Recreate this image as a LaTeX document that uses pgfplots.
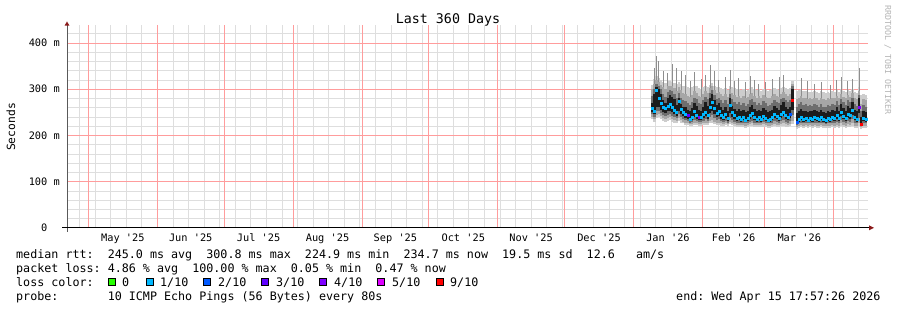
\documentclass[border=0pt]{standalone}
\usepackage{pgfplots}
\pgfplotsset{compat=1.18}
\usepackage{pgfplotstable}
\usepackage{fontspec}
\setmonofont{DejaVu Sans Mono}

\definecolor{s1}{HTML}{CDCDCD}
\definecolor{s2}{HTML}{A6A6A6}
\definecolor{s3}{HTML}{6E6E6E}
\definecolor{s4}{HTML}{1C1C1C}
\definecolor{spk}{HTML}{8E8E8E}
\definecolor{c0}{HTML}{26FF00}
\definecolor{c1}{HTML}{00B8FF}
\definecolor{c2}{HTML}{0059FF}
\definecolor{c3}{HTML}{5E00FF}
\definecolor{c4}{HTML}{7E00FF}
\definecolor{c5}{HTML}{DD00FF}
\definecolor{c9}{HTML}{FF0000}
\definecolor{gridred}{HTML}{FF9C9C}
\definecolor{gridgray}{HTML}{DEDEDE}
\definecolor{arrowred}{HTML}{8B1A1A}
\definecolor{rrdgray}{HTML}{B4B4B4}

% x = days since the left edge of the 360-day window
\pgfplotstableread{
x l1 l2 l3 l4 h4 h3 h2 h1 sp m c
263 236 240 246 250 270 285 300 310 0 258 1
264 230 236 240 246 290 300 312 322 345 252 1
265 238 244 252 262 305 312 320 328 372 298 1
266 240 246 254 262 300 308 316 324 362 280 1
267 236 242 248 256 290 300 310 320 0 270 1
268 232 238 244 250 276 290 304 316 340 262 1
269 230 236 242 248 270 284 300 314 0 258 1
270 232 238 244 252 282 294 306 318 335 264 1
271 234 240 246 254 288 298 308 318 0 268 1
272 230 236 242 250 284 296 306 316 355 262 1
273 228 234 240 246 278 290 302 314 0 255 1
274 226 232 238 242 266 280 296 312 345 250 1
275 232 238 246 254 282 292 304 316 0 274 1
276 228 234 240 246 268 282 298 312 340 256 1
277 226 230 236 242 262 276 292 308 0 250 1
278 222 228 234 238 262 274 290 306 330 246 1
279 222 226 232 236 256 270 286 304 0 244 3
280 220 224 228 232 252 266 284 302 318 236 1
281 220 224 230 234 260 272 288 304 0 240 1
282 222 228 234 240 270 282 296 308 338 252 1
283 222 226 232 236 264 278 292 306 0 244 1
284 220 224 230 234 256 270 286 302 0 240 4
285 220 224 230 234 254 268 284 300 322 240 1
286 222 226 232 238 262 276 290 304 0 246 1
287 222 228 236 242 272 284 296 306 330 250 1
288 222 226 232 236 264 278 292 304 0 244 1
289 226 232 240 248 282 292 302 310 352 262 1
290 228 234 244 254 290 298 306 314 0 272 1
291 224 230 238 246 276 288 298 308 340 258 1
292 222 226 234 240 266 278 292 304 0 248 1
293 222 228 236 242 270 282 294 304 320 252 1
294 220 226 232 236 262 276 290 302 0 244 1
295 220 224 230 234 256 270 286 300 0 240 1
296 222 226 232 238 262 276 290 302 326 246 1
297 220 224 228 232 254 268 284 298 0 238 1
298 224 230 238 248 280 290 300 308 342 266 1
299 222 226 234 240 264 278 292 304 0 250 1
300 220 224 230 236 258 272 288 302 318 244 1
301 218 222 228 232 254 268 284 300 0 238 1
302 218 222 228 234 258 272 286 300 325 240 1
303 218 222 226 230 252 266 282 298 0 236 1
304 218 222 228 234 256 270 286 300 0 240 1
305 216 220 226 230 250 264 280 296 315 234 1
306 218 222 228 232 254 268 284 298 0 238 1
307 220 224 230 236 262 276 290 302 328 244 1
308 220 226 232 240 266 278 292 304 0 248 1
309 218 222 228 234 258 272 286 300 320 240 1
310 218 222 226 230 252 266 282 298 0 236 1
311 218 222 228 234 256 270 286 300 312 240 1
312 218 222 226 230 252 266 282 296 0 236 1
313 218 224 230 236 260 274 288 300 0 242 1
314 218 222 228 232 256 270 284 298 316 238 1
315 216 220 226 230 250 264 280 296 0 234 1
316 216 220 226 230 252 266 282 298 0 236 1
317 218 222 228 234 256 270 286 300 322 240 1
318 220 224 232 238 264 276 290 302 0 246 1
319 218 222 230 236 260 272 286 300 0 242 1
320 218 222 228 232 256 270 284 298 326 238 1
321 220 224 232 238 266 278 290 302 0 246 1
322 220 226 234 242 272 282 294 304 330 250 1
323 218 224 230 236 262 276 290 302 0 244 1
324 218 222 228 234 258 272 286 300 0 240 1
325 220 224 232 238 262 276 290 302 0 246 2
326 224 232 244 256 300 306 312 318 0 276 9
328 214 218 222 224 248 262 278 296 0 228 2
329 216 220 226 230 254 268 282 298 0 236 1
330 218 222 228 234 258 272 286 300 324 240 1
331 216 220 226 230 252 266 280 296 0 236 1
332 218 222 228 232 254 268 282 296 0 238 1
333 216 220 226 230 250 264 278 294 318 234 1
334 218 222 228 232 254 266 280 294 0 238 1
335 216 220 226 230 252 264 278 294 0 236 1
336 218 222 228 234 256 268 282 296 312 240 1
337 216 220 228 232 252 266 280 294 0 238 1
338 216 220 226 230 250 262 276 292 0 236 1
339 218 222 228 234 256 268 282 296 316 240 1
340 216 220 226 230 250 262 278 294 0 236 1
341 216 220 224 228 248 262 276 292 0 234 1
342 216 220 226 232 254 266 280 294 0 238 1
343 216 220 226 230 250 264 278 292 310 236 1
344 218 222 228 234 256 268 282 296 0 240 1
345 216 220 226 232 254 266 280 294 0 238 1
346 218 222 230 236 262 274 286 298 320 244 1
347 216 220 226 232 254 266 280 294 0 238 1
348 220 226 234 242 268 278 290 300 326 250 1
349 218 222 230 236 260 272 284 296 0 242 1
350 216 220 226 232 254 266 280 294 0 238 1
351 218 224 232 238 264 276 288 298 318 246 1
352 218 222 230 236 260 272 284 296 0 244 1
353 220 226 236 244 272 282 292 300 322 254 1
354 216 220 228 234 256 268 282 294 0 240 1
355 216 220 226 230 252 264 278 292 0 236 1
356 220 228 238 248 280 288 296 304 345 262 4
357 214 218 220 222 240 252 268 288 0 224 9
358 216 220 226 232 254 266 278 290 0 238 1
359 216 220 226 230 250 262 276 288 0 236 1
}\smoke

\pgfplotsset{
  smokelayer/.style={forget plot, draw=none, mark=none,
    error bars/.cd, y dir=plus, y explicit, error mark=none,
    error bar style={draw=#1, solid, line width=2.3pt}},
}

\newcommand\legfont{\ttfamily\fontsize{11.7}{14}\selectfont}

\begin{document}
\begin{tikzpicture}
\useasboundingbox (0pt,0pt) rectangle (897pt,310pt);

% background grid (weekly / 20 m gray, monthly / 100 m red), under the data
\begin{scope}[x=1pt,y=1pt]
\foreach \k in {0,...,50}
  \draw[gridgray, line width=0.8pt] ({67+(5.6+7*\k)*2.225},82) -- ({67+(5.6+7*\k)*2.225},285);
\foreach \v in {20,40,...,420}
  \draw[gridgray, line width=0.8pt] (67,{82+\v*0.46253}) -- (868,{82+\v*0.46253});
\foreach \d in {9.6,40.6,70.6,101.6,132.6,162.6,193.6,223.6,254.6,285.6,313.6,344.6}
  \draw[gridred, line width=0.8pt] ({67+\d*2.225},82) -- ({67+\d*2.225},285);
\foreach \v in {100,200,300,400}
  \draw[gridred, line width=0.8pt] (67,{82+\v*0.46253}) -- (868,{82+\v*0.46253});
\end{scope}

\begin{axis}[
  at={(67pt,82pt)}, anchor=origin,
  scale only axis, width=801pt, height=203pt,
  xmin=0, xmax=360, ymin=0, ymax=438.9,
  axis line style={draw=none},
  major tick length=0pt, minor tick length=0pt,
  xtick={25.1,55.6,86.1,117.1,147.6,178.1,208.6,239.1,270.1,299.6,329.1},
  xticklabels={May '25,Jun '25,Jul '25,Aug '25,Sep '25,Oct '25,Nov '25,Dec '25,Jan '26,Feb '26,Mar '26},
  ytick={0,100,200,300,400},
  yticklabels={0\phantom{00},100 m,200 m,300 m,400 m},
  grid=none,
  tick label style={font=\ttfamily\fontsize{10.3}{12}\selectfont, inner sep=0pt},
  xticklabel style={anchor=north, yshift=-5.5pt},
  yticklabel style={anchor=east, xshift=-7pt},
]
\addplot[smokelayer=s1] table[x=x, y=l1, y error plus expr=\thisrow{h1}-\thisrow{l1}] {\smoke};
\addplot[forget plot, draw=none, mark=none,
    error bars/.cd, y dir=plus, y explicit, error mark=none,
    error bar style={draw=spk, solid, line width=1pt}]
  table[x=x, y=h2, y error plus expr={max(\thisrow{sp}-\thisrow{h2},0)}] {\smoke};
\addplot[smokelayer=s2] table[x=x, y=l2, y error plus expr=\thisrow{h2}-\thisrow{l2}] {\smoke};
\addplot[smokelayer=s3] table[x=x, y=l3, y error plus expr=\thisrow{h3}-\thisrow{l3}] {\smoke};
\addplot[smokelayer=s4] table[x=x, y=l4, y error plus expr=\thisrow{h4}-\thisrow{l4}] {\smoke};
\addplot[only marks, mark=square*, mark size=1pt,
  scatter, scatter src=explicit symbolic,
  scatter/classes={1={mark=square*,c1}, 2={mark=square*,c2}, 3={mark=square*,c3}, 4={mark=square*,c4}, 9={mark=square*,c9}}]
  table[x=x, y=m, meta=c] {\smoke};
\end{axis}

\begin{scope}[x=1pt,y=1pt]
% axes lines and arrows
\draw[line width=1pt, draw=black!65] (67,78) -- (67,285);
\draw[line width=1pt, draw=black] (62,82) -- (869,82);
\fill[arrowred] (64.5,284.3) -- (69.5,284.3) -- (67,288.5) -- cycle;
\fill[arrowred] (869,84.7) -- (869,79.7) -- (874,82.2) -- cycle;

% titles
\node[anchor=base, inner sep=0pt, font=\ttfamily\fontsize{13.3}{16}\selectfont] at (448,286) {Last 360 Days};
\node[rotate=90, inner sep=0pt, font=\ttfamily\fontsize{11.3}{13}\selectfont] at (11,183) {Seconds};
\node[rotate=-90, inner sep=0pt, text=rrdgray, font=\ttfamily\fontsize{8.3}{10}\selectfont] at (887.7,250) {RRDTOOL / TOBI OETIKER};

% legend
\node[anchor=base west, inner sep=0pt, font=\legfont] at (16,51.5) {median rtt:~~245.0 ms avg~~300.8 ms max~~224.9 ms min~~234.7 ms now~~19.5 ms sd~~12.6~~~am/s};
\node[anchor=base west, inner sep=0pt, font=\legfont] at (16,37.5) {packet loss: 4.86 \% avg~~100.00 \% max~~0.05 \% min~~0.47 \% now};
\node[anchor=base west, inner sep=0pt, font=\legfont] at (16,23.7) {loss color:};
\foreach \L/\col/\lab/\tx in {108/c0/0/122, 145.5/c1/1\slash 10/160, 203.3/c2/2\slash 10/218, 261/c3/3\slash 10/276, 319/c4/4\slash 10/334, 377/c5/5\slash 10/392, 436/c9/9\slash 10/450}{
  \filldraw[fill=\col, draw=black, line width=1pt] (\L+0.5,24.5) rectangle (\L+7.5,31.5);
  \node[anchor=base west, inner sep=0pt, font=\legfont] at (\tx,23.7) {\lab};
}
\node[anchor=base west, inner sep=0pt, font=\legfont] at (16,9.7) {probe:~~~~~~~10 ICMP Echo Pings (56 Bytes) every 80s};
\node[anchor=base east, inner sep=0pt, font=\legfont] at (880.7,9.7) {end: Wed Apr 15 17:57:26 2026};
\end{scope}
\end{tikzpicture}
\end{document}
